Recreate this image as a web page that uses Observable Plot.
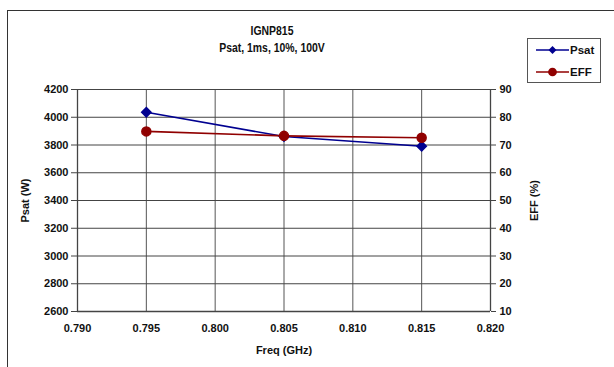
<!DOCTYPE html>
<html>
<head>
<meta charset="utf-8">
<script src="https://cdn.jsdelivr.net/npm/d3@7"></script>
<script src="https://cdn.jsdelivr.net/npm/@observablehq/plot@0.6"></script>
<style>
  html, body { margin: 0; padding: 0; background: #fff; width: 614px; height: 367px; overflow: hidden; }
  body { position: relative; font-family: "Liberation Sans", Arial, sans-serif; font-weight: bold; }
  #frame { position: absolute; left: 7px; top: 10px; width: 700px; height: 500px; border: 1px solid #333; box-sizing: border-box; }
  #chart { position: absolute; left: 0; top: 0; }
  #title { position: absolute; left: 0; width: 544px; top: 23px; text-align: center; font-size: 12px; line-height: 17px; color: #111; transform: scaleX(0.87); transform-origin: 272px 0; }
  #legend { position: absolute; left: 527px; top: 38px; width: 74px; height: 45px; border: 1px solid #555; box-sizing: border-box; background: #fff; }
</style>
</head>
<body>
<div id="frame"></div>
<div id="chart"></div>
<div id="title">IGNP815<br>Psat, 1ms, 10%, 100V</div>
<div id="legend"></div>
<script>
const freq = [0.795, 0.805, 0.815];
const psat = [4036, 3861, 3791];
const eff = [74.9, 73.3, 72.6];
const xTicks = [0.790, 0.795, 0.800, 0.805, 0.810, 0.815, 0.820];
const psatTicks = [2600, 2800, 3000, 3200, 3400, 3600, 3800, 4000, 4200];
const effTicks = [10, 20, 30, 40, 50, 60, 70, 80, 90];

const blue = "#000090";
const red = "#900000";

// map EFF (10..90) onto Psat axis (2600..4200)
const effToY = e => 2600 + (e - 10) * (1600 / 80);
const yToEff = y => 10 + (y - 2600) * (80 / 1600);

const psatData = freq.map((f, i) => ({f, v: psat[i]}));
const effData = freq.map((f, i) => ({f, v: effToY(eff[i])}));

const font = "bold 11px 'Liberation Sans', Arial, sans-serif";

const chart = Plot.plot({
  width: 614,
  height: 367,
  marginLeft: 77,
  marginRight: 124,
  marginTop: 89,
  marginBottom: 56,
  style: {font: font, color: "#111", background: "transparent", overflow: "visible"},
  x: {domain: [0.790, 0.820]},
  y: {domain: [2600, 4200]},
  marks: [
    Plot.gridX(xTicks, {stroke: "#555", strokeOpacity: 1}),
    Plot.gridY(psatTicks, {stroke: "#444", strokeOpacity: 1}),
    Plot.ruleX([0.790, 0.820], {stroke: "#444", strokeWidth: 1.3}),
    Plot.ruleY([2600], {stroke: "#444", strokeWidth: 1.3}),
    Plot.axisX({ticks: xTicks, tickSize: 0, tickPadding: 13, tickFormat: d3.format(".3f"),
      label: "Freq (GHz)", labelAnchor: "center", labelArrow: "none", labelOffset: 42}),
    Plot.axisY({anchor: "left", ticks: psatTicks, tickSize: 6, tickPadding: 3,
      tickFormat: d => String(d),
      label: "Psat (W)", labelAnchor: "center", labelArrow: "none", labelOffset: 56, stroke: "#444"}),
    Plot.axisY({anchor: "right", ticks: psatTicks, tickSize: 5, tickPadding: 4,
      tickFormat: d => String(Math.round(yToEff(d))),
      label: "EFF (%)", labelAnchor: "center", labelArrow: "none", labelOffset: 47, stroke: "#444"}),
    Plot.line(psatData, {x: "f", y: "v", stroke: blue, strokeWidth: 1.6}),
    Plot.line(effData, {x: "f", y: "v", stroke: red, strokeWidth: 1.6}),
    Plot.dot(psatData, {x: "f", y: "v", symbol: "diamond2", r: 4.2, fill: blue, stroke: blue}),
    Plot.dot(effData, {x: "f", y: "v", symbol: "circle", r: 4.5, fill: red, stroke: red})
  ]
});
document.getElementById("chart").appendChild(chart);

// legend
const lg = d3.select("#legend").append("svg").attr("width", 72).attr("height", 43)
  .style("font", "bold 11.5px 'Liberation Sans', Arial, sans-serif");
const items = [{name: "Psat", color: blue, sym: "diamond"}, {name: "EFF", color: red, sym: "circle"}];
items.forEach((it, i) => {
  const cy = 11 + i * 22;
  lg.append("line").attr("x1", 8).attr("x2", 41).attr("y1", cy).attr("y2", cy)
    .attr("stroke", it.color).attr("stroke-width", 1.6);
  const sym = it.sym === "diamond" ? d3.symbolDiamond2 : d3.symbolCircle;
  lg.append("path").attr("d", d3.symbol(sym, it.sym === "diamond" ? 40 : 60)())
    .attr("transform", `translate(24.5,${cy})`).attr("fill", it.color);
  lg.append("text").attr("x", 42).attr("y", cy).attr("dy", "0.35em").attr("fill", "#111").text(it.name);
});
</script>
</body>
</html>
